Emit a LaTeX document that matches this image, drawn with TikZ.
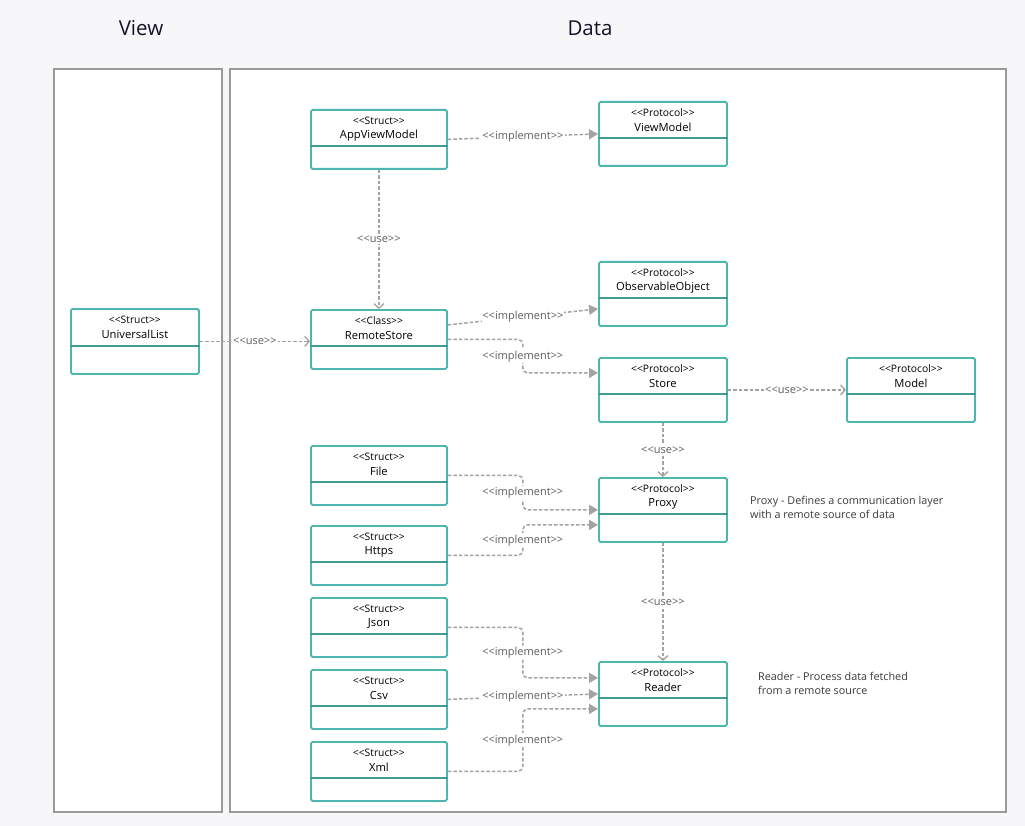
\documentclass[tikz,border=0pt]{standalone}
\usepackage{fontspec}
\setmainfont{Open Sans}
\usetikzlibrary{arrows.meta,calc}
\definecolor{bgc}{HTML}{F7F7F9}
\definecolor{umlteal}{HTML}{4DB6B0}
\definecolor{panelc}{HTML}{9A9A9A}
\definecolor{connc}{HTML}{A3A3A3}
\definecolor{lblc}{HTML}{5E5E5E}
\definecolor{ink}{HTML}{141428}
\definecolor{notec}{HTML}{3A3A3A}
\newcommand\ltlt{<\kern0pt<}
\newcommand\gtgt{>\kern0pt>}
\tikzset{
  clsbox/.style={draw=umlteal, line width=1.8pt, fill=white, rounded corners=1.5pt, inner sep=0pt},
  divline/.style={draw=umlteal!85!black, line width=1.3pt},
  stereo/.style={font=\fontsize{10.3}{12}\selectfont, text=black, inner sep=0pt},
  ttl/.style={font=\fontsize{11.2}{13}\selectfont, text=black, inner sep=0pt},
  panel/.style={draw=panelc, line width=2pt, fill=white},
  head/.style={font=\fontsize{20.5}{24}\selectfont, text=ink},
  conn/.style={draw=connc, line width=1.5pt, dash pattern=on 3.5pt off 2pt},
  impl/.style={conn, rounded corners=5pt, -{Triangle[length=9pt,width=10pt]}},
  usearr/.style={conn, -{Straight Barb[length=4.5pt,width=10pt,line width=1.3pt]}},
  lab/.style={fill=white, text=lblc, font=\fontsize{11}{13}\selectfont, inner sep=1.5pt},
  note/.style={text=notec, font=\fontsize{10.8}{14}\selectfont, align=left, inner sep=0pt}
}
\newcommand{\umlcls}[8]{%
  \node[clsbox, minimum width=#4pt, minimum height=#5pt, anchor=north west] (#1) at (#2,#3) {};
  \draw[divline] ([yshift=-#6pt]#1.north west) -- ([yshift=-#6pt]#1.north east);
  \node[stereo] (#1-s) at ([yshift=-11.5pt]#1.north) {\ltlt #7\gtgt};
  \node[ttl] (#1-t) at ([yshift=-26.5pt]#1.north) {#8};
}
\begin{document}
\begin{tikzpicture}[x=1pt,y=-1pt]
\fill[bgc] (0,0) rectangle (1025,826);
\useasboundingbox (0,0) rectangle (1025,826);
% panels
\draw[panel] (54,69) rectangle (222,812);
\draw[panel] (230,69) rectangle (1006,812);
\node[head] (hview) at (141,28) {View};
\node[head] (hdata) at (590,28) {Data};
% classes
\umlcls{UL}{70}{308}{128}{65}{38}{Struct}{UniversalList}
\umlcls{AVM}{310}{109}{136}{59}{37}{Struct}{AppViewModel}
\umlcls{VM}{598}{101}{128}{64}{37}{Protocol}{ViewModel}
\umlcls{RS}{310}{309}{136}{59}{37}{Class}{RemoteStore}
\umlcls{OO}{598}{261}{128}{64}{37}{Protocol}{ObservableObject}
\umlcls{ST}{598}{357}{128}{64}{37}{Protocol}{Store}
\umlcls{MD}{846}{357}{128}{64}{37}{Protocol}{Model}
\umlcls{FL}{310}{445}{136}{59}{37}{Struct}{File}
\umlcls{HT}{310}{525}{136}{59}{37}{Struct}{Https}
\umlcls{PX}{598}{477}{128}{64}{37}{Protocol}{Proxy}
\umlcls{JS}{310}{597}{136}{59}{37}{Struct}{Json}
\umlcls{CS}{310}{669}{136}{59}{37}{Struct}{Csv}
\umlcls{XM}{310}{741}{136}{59}{37}{Struct}{Xml}
\umlcls{RD}{598}{661}{128}{64}{37}{Protocol}{Reader}
% connectors
\draw[impl] (AVM.east) -- node[lab] {\ltlt implement\gtgt} (VM.west);
\draw[usearr] (AVM.south) -- node[lab] {\ltlt use\gtgt} (RS.north);
\draw[usearr] (UL.east) -- node[lab] {\ltlt use\gtgt} (UL.east -| RS.west);
\draw[impl] ([yshift=14.5pt]RS.east) -- node[lab] {\ltlt implement\gtgt} ([yshift=-15pt]OO.west);
\draw[impl] (RS.east) -- ++(75,0) |- node[lab,pos=0.25] {\ltlt implement\gtgt} ([yshift=17pt]ST.west);
\draw[usearr] (ST.east) -- node[lab] {\ltlt use\gtgt} (MD.west);
\draw[usearr] (ST.south) -- node[lab] {\ltlt use\gtgt} (PX.north);
\draw[impl] (FL.east) -- ++(75,0) |- node[lab,pos=0.25] {\ltlt implement\gtgt} (PX.west);
\draw[impl] (HT.east) -- ++(75,0) |- node[lab,pos=0.25] {\ltlt implement\gtgt} ([yshift=-15pt]PX.west);
\draw[usearr] (PX.south) -- node[lab] {\ltlt use\gtgt} (RD.north);
\draw[impl] (JS.east) -- ++(75,0) |- node[lab,pos=0.25] {\ltlt implement\gtgt} ([yshift=16pt]RD.west);
\draw[impl] (CS.east) -- node[lab] {\ltlt implement\gtgt} (RD.west);
\draw[impl] (XM.east) -- ++(75,0) |- node[lab,pos=0.25] {\ltlt implement\gtgt} ([yshift=-15pt]RD.west);
% notes
\node[note, anchor=west] (npx) at (750,507.7) {Proxy - Defines a communication layer\\with a remote source of data};
\node[note, anchor=west] (nrd) at (758,683.3) {Reader - Process data fetched\\from a remote source};
\end{tikzpicture}
\end{document}
